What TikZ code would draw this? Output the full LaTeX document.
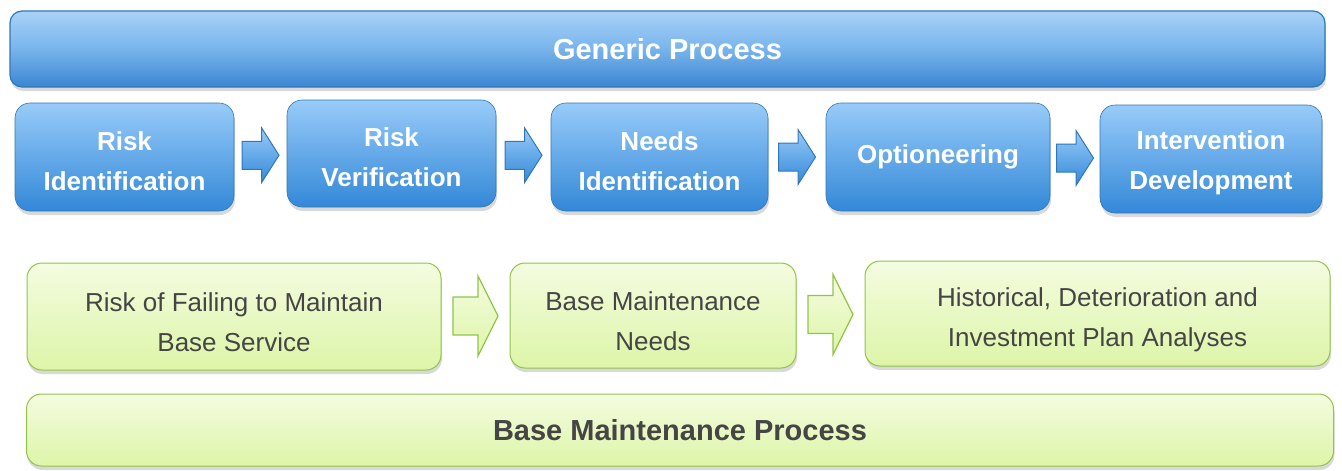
\documentclass[tikz,border=0pt]{standalone}
\usepackage{fontspec}
\setmainfont{Liberation Sans}
\usetikzlibrary{shadows,calc}
\definecolor{blueTop}{HTML}{98CBF9}
\definecolor{blueBot}{HTML}{3388D8}
\definecolor{blueLine}{HTML}{2F78B8}
\definecolor{barTop}{HTML}{A8D2F7}
\definecolor{barMid}{HTML}{78B4EC}
\definecolor{barBot}{HTML}{3A86D2}
\definecolor{greenTop}{HTML}{F4FCE0}
\definecolor{greenBot}{HTML}{DDF5A8}
\definecolor{greenLine}{HTML}{92C448}
\definecolor{greyText}{HTML}{454545}
\newcommand\lowerby[1]{\rule{0pt}{#1}}
\tikzset{
  softshadow/.style={drop shadow={shadow xshift=1pt, shadow yshift=-4pt, opacity=0.25, fill=black!60}},
  bluebar/.style={draw=blueLine, line width=1.2pt, rounded corners=12pt, top color=barTop, bottom color=barBot, middle color=barMid, minimum width=1315pt, minimum height=76pt, text=white, font=\fontsize{29}{34}\selectfont\bfseries, softshadow},
  bluebox/.style={draw=blueLine, line width=0.6pt, rounded corners=15pt, top color=blueTop, bottom color=blueBot, text=white, align=center, inner sep=0pt, font=\fontsize{26}{40}\selectfont\bfseries, softshadow},
  greenbox/.style={draw=greenLine, line width=1pt, rounded corners=15pt, top color=greenTop, bottom color=greenBot, text=greyText, align=center, inner sep=0pt, font=\fontsize{26}{40}\selectfont, softshadow},
  greenbar/.style={greenbox, font=\fontsize{29}{34}\selectfont\bfseries},
  barrow/.pic={\path[draw=blueLine, line width=1pt, top color=blueTop, bottom color=blueBot, line join=miter]
     (-18.5,-14) -- (1,-14) -- (1,-27.5) -- (18.5,0) -- (1,27.5) -- (1,14) -- (-18.5,14) -- cycle;},
  garrow/.pic={\path[draw=greenLine, line width=1.2pt, top color=greenTop, bottom color=greenBot, line join=miter]
     (-22.5,-19) -- (2.5,-19) -- (2.5,-40) -- (22.5,0) -- (2.5,40) -- (2.5,19) -- (-22.5,19) -- cycle;}
}
\begin{document}
\begin{tikzpicture}[x=1pt,y=-1pt]
\useasboundingbox (0,0) rectangle (1342,471);
% top bar
\node[bluebar] (gp) at (667.5,49) {Generic Process};
% blue boxes
\node[bluebox, minimum width=219pt, minimum height=108pt] (b1) at (124.5,157) {\lowerby{27pt}Risk\\Identification};
\node[bluebox, minimum width=209pt, minimum height=107pt] (b2) at (391.5,153.5) {\lowerby{27pt}Risk\\Verification};
\node[bluebox, minimum width=217pt, minimum height=108pt] (b3) at (659.5,157) {\lowerby{27pt}Needs\\Identification};
\node[bluebox, minimum width=224pt, minimum height=108pt] (b4) at (938,157) {Optioneering};
\node[bluebox, minimum width=222pt, minimum height=108pt] (b5) at (1211,159) {\lowerby{27pt}Intervention\\Development};
\pic at ($(b1.east)!.5!(b2.west)$) {barrow};
\pic at ($(b2.east)!.5!(b3.west)$) {barrow};
\pic at ($(b3.east)!.5!(b4.west)$) {barrow};
\pic at ($(b4.east)!.5!(b5.west)$) {barrow};
% green boxes
\node[greenbox, minimum width=414pt, minimum height=107pt] (g1) at (234,316.5) {\lowerby{31pt}Risk of Failing to Maintain\\Base Service};
\node[greenbox, minimum width=286pt, minimum height=105pt] (g2) at (653,315.5) {\lowerby{31pt}Base Maintenance\\Needs};
\node[greenbox, minimum width=465pt, minimum height=105pt] (g3) at (1097.5,313.5) {\lowerby{31pt}Historical, Deterioration and\\Investment Plan Analyses};
\pic at ($(g1.east)!.5!(g2.west)$) {garrow};
\pic at ($(g2.east)!.5!(g3.west)$) {garrow};
% bottom bar
\node[greenbar, minimum width=1307pt, minimum height=72pt] (bm) at (680,430) {Base Maintenance Process};
\end{tikzpicture}
\end{document}
